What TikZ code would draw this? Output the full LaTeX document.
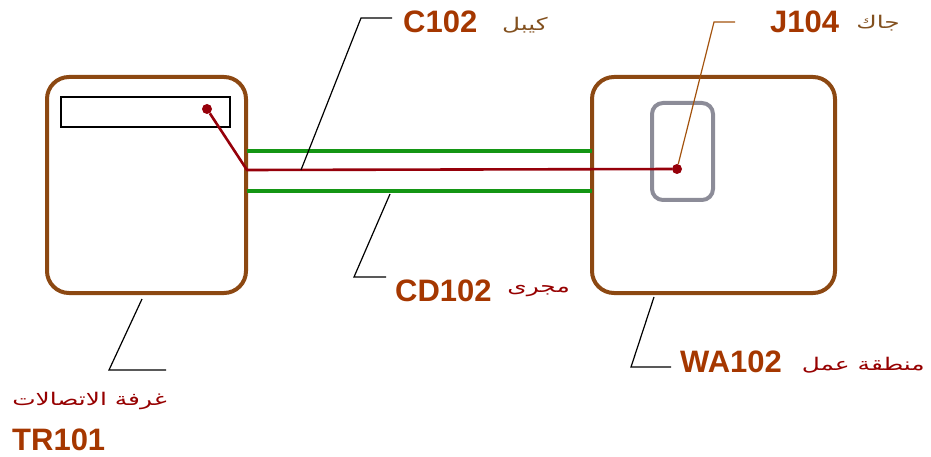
\documentclass[tikz,border=0pt]{standalone}
\usepackage{fontspec}
\setmainfont{Liberation Sans}
\newfontfamily\arabicfont[Script=Arabic,FakeStretch=1.42]{DejaVu Sans}
\TeXXeTstate=1
\definecolor{boxbrown}{RGB}{140,72,18}
\definecolor{ductgreen}{RGB}{20,150,20}
\definecolor{wirered}{RGB}{150,0,10}
\definecolor{jackgray}{RGB}{140,140,152}
\definecolor{lbl}{RGB}{165,55,0}
\definecolor{arred}{RGB}{150,0,0}
\definecolor{arbrown}{RGB}{130,80,30}
\begin{document}
\begin{tikzpicture}[x=1pt,y=-1pt,
  room/.style={draw=boxbrown,line width=4pt,rounded corners=22pt,inner sep=0pt},
  duct/.style={draw=ductgreen,line width=4pt},
  wire/.style={draw=wirered,line width=2.6pt},
  leader/.style={draw=black,line width=1.2pt},
  jleader/.style={draw=boxbrown!80!orange,line width=1.2pt},
  dotnode/.style={circle,fill=wirered,inner sep=0pt,minimum size=10pt},
  latin/.style={text=lbl,font=\bfseries\fontsize{31}{31}\selectfont,inner sep=0pt},
  arab/.style={text=arred,font=\arabicfont\fontsize{17.5}{17.5}\selectfont,inner sep=0pt,anchor=base east}]
\useasboundingbox (0,0) rectangle (931,457);
% rooms
\node[room,minimum width=199pt,minimum height=216pt] (TR) at (146.5,185) {};
\node[room,minimum width=243pt,minimum height=216pt] (WA) at (713.5,185) {};
% patch panel and jack
\node[draw=black,line width=1.5pt,minimum width=169pt,minimum height=30pt,inner sep=0pt] (panel) at (145.5,112) {};
\node[draw=jackgray,line width=4pt,rounded corners=11pt,minimum width=61pt,minimum height=97pt,inner sep=0pt] (jack) at (682.5,151.5) {};
% conduit
\coordinate (dA1) at (247,151); \coordinate (dB1) at (592,151);
\coordinate (dA2) at (247,191); \coordinate (dB2) at (592,191);
\draw[duct] (dA1) -- (dB1);
\draw[duct] (dA2) -- (dB2);
% cable
\node[dotnode] (p1) at (207,109) {};
\node[dotnode] (p2) at (677,169) {};
\coordinate (cEnter) at (247,170);
\draw[wire] (p1) -- (cEnter) -- (p2);
% labels
\node[latin,anchor=base west] (lC) at (403,33) {C102};
\node[arab,text=arbrown] (aC) at (548,31) {\beginR كيبل\endR};
\node[latin,anchor=base west] (lJ) at (770,33) {J104};
\node[arab,text=arbrown] (aJ) at (900,29) {\beginR جاك\endR};
\node[latin,anchor=base west] (lCD) at (395,301) {CD102};
\node[arab] (aCD) at (570,292) {\beginR مجرى\endR};
\node[latin,anchor=base west] (lWA) at (680,372) {WA102};
\node[arab] (aWA) at (925,370) {\beginR منطقة عمل\endR};
\node[arab] (aTR) at (167,405) {\beginR غرفة الاتصالات\endR};
\node[latin,anchor=base west] (lTR) at (12,450) {TR101};
% leaders
\coordinate (c1) at (301,170); \coordinate (c2) at (361,18); \coordinate (c3) at (392,18);
\draw[leader] (c1) -- (c2) -- (c3);
\coordinate (d1) at (390,194); \coordinate (d2) at (354,277); \coordinate (d3) at (386,277);
\draw[leader] (d1) -- (d2) -- (d3);
\coordinate (w1) at (654,297); \coordinate (w2) at (631,367); \coordinate (w3) at (671,367);
\draw[leader] (w1) -- (w2) -- (w3);
\coordinate (t1) at (142,299); \coordinate (t2) at (109,370); \coordinate (t3) at (166,370);
\draw[leader] (t1) -- (t2) -- (t3);
\coordinate (j2) at (714,22); \coordinate (j3) at (735,22);
\draw[jleader] (p2) -- (j2) -- (j3);
\end{tikzpicture}
\end{document}
